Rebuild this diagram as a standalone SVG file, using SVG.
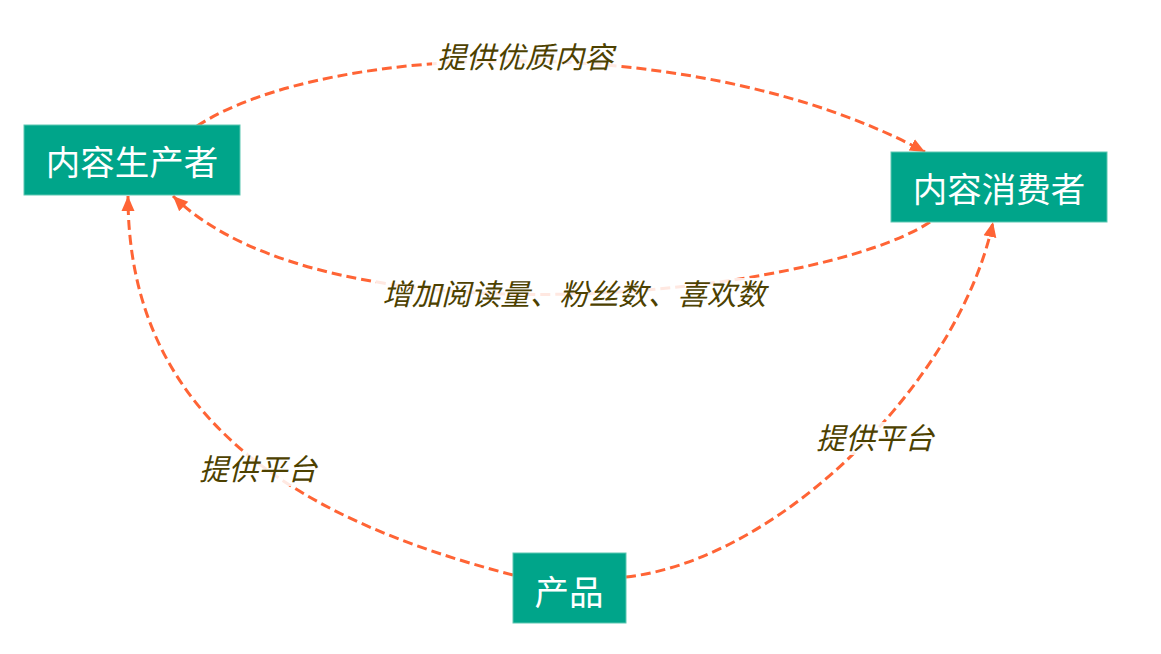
<svg xmlns="http://www.w3.org/2000/svg" width="1161" height="654" viewBox="0 0 1161 654">
<style>
.node rect{fill:#00a58a;stroke:#5cc7b2;stroke-width:1}
.node text{fill:#ffffff;font-family:"Microsoft YaHei","Noto Sans CJK SC",sans-serif;font-size:34.5px;text-anchor:middle;dominant-baseline:central}
.edge{fill:none;stroke:#ff6435;stroke-width:3;stroke-dasharray:10 5;marker-end:url(#arr)}
.lbl{fill:#4d4100;font-family:"Microsoft YaHei","Noto Sans CJK SC",sans-serif;font-size:29.5px;font-style:italic;text-anchor:middle}
.lblbg{fill:#ffffff;fill-opacity:0.85}
</style>
<defs>
<marker id="arr" markerUnits="userSpaceOnUse" markerWidth="16" markerHeight="16" viewBox="0 0 16 16" refX="15" refY="8" orient="auto">
<path d="M0,1.5 L15,8 L0,14.5 Z" fill="#ff6435"/>
</marker>
</defs>
<rect width="1161" height="654" fill="#ffffff"/>
<g id="connectors">
<path class="edge" d="M197,126 C330,40 700,30 925,152"/>
<path class="edge" d="M930,222 C820,295 330,350 173,196"/>
<path class="edge" d="M513,575 C300,520 128,420 128,196"/>
<path class="edge" d="M626,577 C780,560 960,380 993,222"/>
<rect class="lblbg" x="432" y="41" width="186" height="33"/>
<text class="lbl" x="525" y="68">提供优质内容</text>
<rect class="lblbg" x="376" y="278" width="396" height="33"/>
<text class="lbl" x="574" y="305">增加阅读量、粉丝数、喜欢数</text>
<rect class="lblbg" x="195" y="453" width="126" height="33"/>
<text class="lbl" x="258" y="480">提供平台</text>
<rect class="lblbg" x="812" y="422" width="126" height="33"/>
<text class="lbl" x="875" y="449">提供平台</text>
</g>
<g id="node-producer" class="node">
<rect x="24" y="125" width="216" height="70"/>
<text x="132" y="160">内容生产者</text>
</g>
<g id="node-consumer" class="node">
<rect x="891" y="152" width="216" height="70"/>
<text x="999" y="187">内容消费者</text>
</g>
<g id="node-product" class="node">
<rect x="513" y="553" width="113" height="70"/>
<text x="569" y="590">产品</text>
</g>
</svg>
